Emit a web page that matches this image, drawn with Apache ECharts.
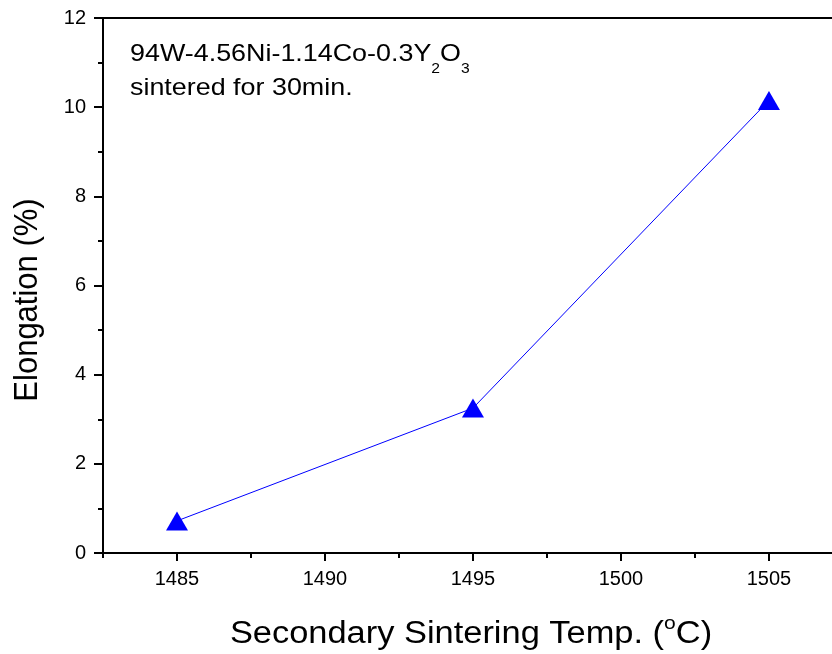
<!DOCTYPE html>
<html>
<head>
<meta charset="utf-8">
<script src="https://cdn.jsdelivr.net/npm/echarts@6/dist/echarts.min.js"></script>
<style>
html, body { margin: 0; padding: 0; background: #fff; }
#chart { width: 832px; height: 654px; }
</style>
</head>
<body>
<div id="chart"></div>
<script>
var temps = [1485, 1495, 1505];
var elongation = [0.72, 3.25, 10.15];
var xMajorTicks = [1485, 1490, 1495, 1500, 1505];
var xMinorTicks = [1482.5, 1487.5, 1492.5, 1497.5, 1502.5];
var xTitle = 'Secondary Sintering Temp. (';
var yTitle = 'Elongation (%)';

var font = 'Liberation Sans, Arial, sans-serif';
var xMin = 1482.5, xMax = 1507.13; // the frame runs past the right edge of the picture
var chart = echarts.init(document.getElementById('chart'));

chart.setOption({
    animation: false,
    backgroundColor: '#fff',
    grid: { left: 103, top: 18, right: 0, bottom: 101 },
    xAxis: [{
        type: 'value',
        min: xMin, max: xMax,
        axisLine: { show: true, lineStyle: { color: '#000', width: 2 } },
        axisTick: { show: true, length: 8, customValues: xMajorTicks, lineStyle: { color: '#000', width: 2 } },
        axisLabel: {
            customValues: xMajorTicks, color: '#000', fontSize: 20, fontFamily: font, margin: 16,
            formatter: function (v) { return String(v); }
        },
        splitLine: { show: false }
    }, {
        type: 'value',
        position: 'bottom',
        min: xMin, max: xMax,
        axisLine: { show: false },
        axisTick: { show: true, length: 5, customValues: xMinorTicks, lineStyle: { color: '#000', width: 2 } },
        axisLabel: { show: false },
        splitLine: { show: false }
    }, {
        // top frame line
        type: 'value',
        position: 'top',
        min: xMin, max: xMax,
        axisLine: { show: true, lineStyle: { color: '#000', width: 2 } },
        axisTick: { show: false },
        axisLabel: { show: false },
        splitLine: { show: false }
    }],
    yAxis: {
        type: 'value',
        min: 0, max: 12, interval: 2,
        axisLine: { show: true, lineStyle: { color: '#000', width: 2 } },
        axisTick: { show: true, length: 9, lineStyle: { color: '#000', width: 2 } },
        minorTick: { show: true, splitNumber: 2, length: 5, lineStyle: { color: '#000', width: 2 } },
        axisLabel: { color: '#000', fontSize: 20, fontFamily: font, margin: 17 },
        splitLine: { show: false }
    },
    graphic: [{
        type: 'text',
        x: 130, y: 42,
        scaleX: 1.12,
        style: {
            text: '{a|94W-4.56Ni-1.14Co-0.3Y}{s|2}{a|O}{s|3}\n{a|sintered for 30min.}',
            fill: '#000',
            rich: {
                a: { fontSize: 24, fontFamily: font, lineHeight: 34, verticalAlign: 'top', fill: '#000' },
                s: { fontSize: 14, fontFamily: font, lineHeight: 34, verticalAlign: 'bottom', fill: '#000' }
            }
        }
    }, {
        type: 'text',
        x: 471, y: 632,
        scaleX: 1.11,
        style: {
            text: '{t|' + xTitle + '}{p|o}{t|C)}',
            fill: '#000',
            align: 'center', verticalAlign: 'middle',
            rich: {
                t: { fontSize: 31, fontFamily: font, lineHeight: 36, verticalAlign: 'bottom', fill: '#000' },
                p: { fontSize: 19, fontFamily: font, lineHeight: 36, verticalAlign: 'top', fill: '#000' }
            }
        }
    }, {
        type: 'text',
        x: 28, y: 300,
        rotation: Math.PI / 2,
        scaleY: 1.1,
        style: {
            text: yTitle,
            font: '31px ' + font,
            fill: '#000',
            align: 'center', verticalAlign: 'middle'
        }
    }],
    series: [{
        type: 'line',
        xAxisIndex: 0,
        data: temps.map(function (t, i) { return [t, elongation[i]]; }),
        symbol: 'triangle',
        symbolSize: [22, 19],
        itemStyle: { color: '#0000ff' },
        lineStyle: { color: '#0000ff', width: 1 }
    }]
});
</script>
</body>
</html>
